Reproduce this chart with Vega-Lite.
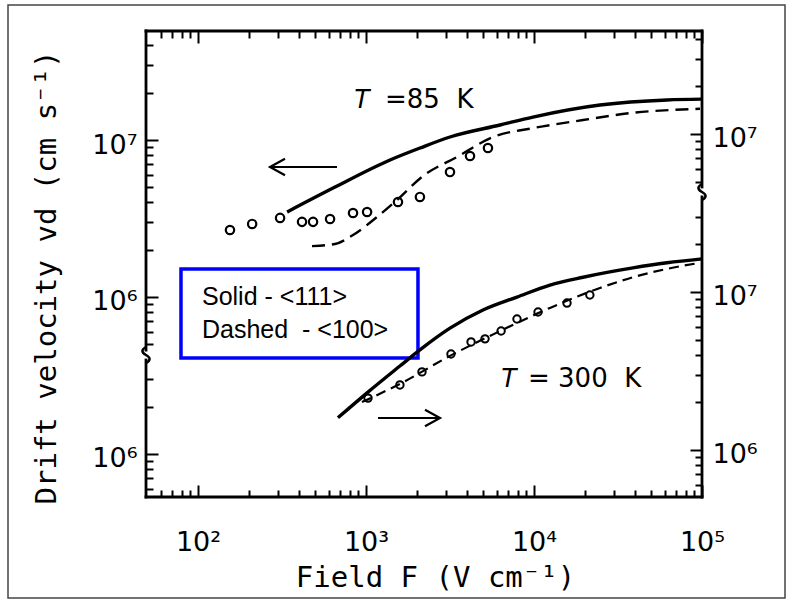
{
  "$schema": "https://vega.github.io/schema/vega-lite/v6.json",
  "width": 777,
  "height": 593,
  "autosize": "none",
  "padding": {"left": 8, "top": 5, "right": 7, "bottom": 7},
  "background": "white",
  "config": {"view": {"stroke": "#444444", "strokeWidth": 1.5}},
  "datasets": {
    "frame": [
      {"F": 49.03, "F2": 100000, "v": 53230, "v2": 53230},
      {"F": 49.03, "F2": 100000, "v": 49460000, "v2": 49460000},
      {"F": 49.03, "F2": 49.03, "v": 53230, "v2": 396900},
      {"F": 49.03, "F2": 49.03, "v": 459700, "v2": 49460000},
      {"F": 100000, "F2": 100000, "v": 53230, "v2": 4335000},
      {"F": 100000, "F2": 100000, "v": 5018000, "v2": 49460000}
    ],
    "breaks": [
      {"F": 49.03, "v": 427100},
      {"F": 100000, "v": 4665000}
    ],
    "box": [
      {"F": 79.2, "F2": 2039, "v": 1507800, "v2": 408800}
    ],
    "legendText": [
      {"F": 105.6, "v": 889000, "label": "Solid - <111>"},
      {"F": 105.6, "v": 548100, "label": "Dashed\u00a0 - <100>"}
    ],
    "tLabels": [
      {"F": 836.6, "v": 15995000, "label": "T"},
      {"F": 6276, "v": 267160, "label": "T"}
    ],
    "tempLabels": [
      {"F": 1297.6, "v": 15995000, "label": "=85\u00a0 K"},
      {"F": 9211, "v": 267160, "label": "=\u00a0300\u00a0 K"}
    ],
    "arrows": [
      {"F": 268.3, "F2": 672, "v": 6730000},
      {"F": 1179, "F2": 2757, "v": 169550}
    ],
    "arrowHeads": [
      {"F": 268.3, "v": 6730000, "dir": "left"},
      {"F": 2757, "v": 169550, "dir": "right"}
    ],
    "s85": [
      {"F": 339, "v": 3480000},
      {"F": 637, "v": 4940000},
      {"F": 1390, "v": 7460000},
      {"F": 2096, "v": 8890000},
      {"F": 3162, "v": 10450000},
      {"F": 6280, "v": 12460000},
      {"F": 9860, "v": 14000000},
      {"F": 24700, "v": 16700000},
      {"F": 61900, "v": 18000000},
      {"F": 100000, "v": 18200000}
    ],
    "d85": [
      {"F": 477, "v": 2110000},
      {"F": 654, "v": 2176000},
      {"F": 837, "v": 2483000},
      {"F": 1161, "v": 3230000},
      {"F": 1530, "v": 4150000},
      {"F": 2185, "v": 5900000},
      {"F": 3480, "v": 7800000},
      {"F": 5700, "v": 10450000},
      {"F": 9860, "v": 11900000},
      {"F": 19600, "v": 13400000},
      {"F": 38800, "v": 14900000},
      {"F": 97300, "v": 15800000}
    ],
    "p85": [
      {"F": 155, "v": 2670000},
      {"F": 210, "v": 2920000},
      {"F": 308, "v": 3190000},
      {"F": 416, "v": 3010000},
      {"F": 484, "v": 3010000},
      {"F": 611, "v": 3140000},
      {"F": 837, "v": 3430000},
      {"F": 1015, "v": 3480000},
      {"F": 1550, "v": 4030000},
      {"F": 2094, "v": 4340000},
      {"F": 3162, "v": 6250000},
      {"F": 4160, "v": 7910000},
      {"F": 5320, "v": 8890000}
    ],
    "s300": [
      {"F": 681, "v": 1600000},
      {"F": 1015, "v": 2300000},
      {"F": 1592, "v": 3400000},
      {"F": 2094, "v": 4300000},
      {"F": 3162, "v": 5900000},
      {"F": 4970, "v": 7690000},
      {"F": 7920, "v": 9290000},
      {"F": 12450, "v": 11070000},
      {"F": 19600, "v": 12400000},
      {"F": 38800, "v": 14200000},
      {"F": 61900, "v": 15300000},
      {"F": 100000, "v": 16200000}
    ],
    "d300": [
      {"F": 946, "v": 2010000},
      {"F": 1592, "v": 2620000},
      {"F": 3162, "v": 3940000},
      {"F": 6280, "v": 5660000},
      {"F": 12450, "v": 7930000},
      {"F": 24700, "v": 10600000},
      {"F": 38800, "v": 12400000},
      {"F": 61900, "v": 14000000},
      {"F": 97300, "v": 15300000}
    ],
    "p300": [
      {"F": 1028, "v": 2130000},
      {"F": 1592, "v": 2580000},
      {"F": 2154, "v": 3120000},
      {"F": 3205, "v": 4050000},
      {"F": 4220, "v": 4830000},
      {"F": 5110, "v": 5050000},
      {"F": 6370, "v": 5660000},
      {"F": 7920, "v": 6750000},
      {"F": 10570, "v": 7470000},
      {"F": 15720, "v": 8510000},
      {"F": 21500, "v": 9570000}
    ]
  },
  "layer": [
    {
      "encoding": {
        "x": {
          "field": "F",
          "type": "quantitative",
          "scale": {"type": "log", "domain": [7.396, 311960], "nice": false},
          "axis": {
            "orient": "bottom",
            "offset": -101,
            "domain": false,
            "grid": false,
            "values": [60, 70, 80, 90, 100, 200, 300, 400, 500, 600, 700, 800, 900, 1000, 2000, 3000, 4000, 5000, 6000, 7000, 8000, 9000, 10000, 20000, 30000, 40000, 50000, 60000, 70000, 80000, 90000, 100000],
            "tickSize": {"condition": {"test": "datum.value==100||datum.value==1000||datum.value==10000||datum.value==100000", "value": -12}, "value": -7},
            "tickColor": "black",
            "tickWidth": 2,
            "labelExpr": "datum.value==100?'10²':datum.value==1000?'10³':datum.value==10000?'10⁴':datum.value==100000?'10⁵':''",
            "labelPadding": 44,
            "labelFont": "DejaVu Sans",
            "labelFontSize": 27,
            "labelColor": "black",
            "labelBaseline": "top",
            "labelFlush": false,
            "labelOverlap": false,
            "title": "Field F (V cm⁻¹)",
            "titleFont": "DejaVu Sans Mono",
            "titleFontSize": 29,
            "titleFontWeight": "normal",
            "titleColor": "black",
            "titleX": 427,
            "titleY": 89,
            "titleAlign": "center",
            "titleBaseline": "alphabetic",
            "titleAngle": 0
          }
        },
        "y": {
          "field": "v",
          "type": "quantitative",
          "scale": {"type": "log", "domain": [12099, 72430000], "nice": false},
          "axis": {
            "orient": "left",
            "offset": -138,
            "domain": false,
            "grid": false,
            "values": [60000, 70000, 80000, 90000, 100000, 200000, 300000, 500000, 600000, 700000, 800000, 900000, 1000000, 2000000, 3000000, 4000000, 5000000, 6000000, 7000000, 8000000, 9000000, 10000000, 20000000, 30000000, 40000000],
            "tickSize": {"condition": {"test": "datum.value==100000||datum.value==1000000||datum.value==10000000", "value": -12}, "value": -7},
            "tickColor": "black",
            "tickWidth": 2,
            "labelExpr": "datum.value==100000?'10⁶':datum.value==1000000?'10⁶':datum.value==10000000?'10⁷':''",
            "labelPadding": 21,
            "labelFont": "DejaVu Sans",
            "labelFontSize": 27,
            "labelColor": "black",
            "labelBaseline": "middle",
            "labelOffset": 5,
            "labelFlush": false,
            "labelOverlap": false,
            "title": "Drift velocity vd (cm s⁻¹)",
            "titleFont": "DejaVu Sans Mono",
            "titleFontSize": 29,
            "titleFontWeight": "normal",
            "titleColor": "black",
            "titleX": -91,
            "titleY": 272,
            "titleAngle": -90,
            "titleAlign": "center",
            "titleBaseline": "alphabetic"
          }
        }
      },
      "layer": [
        {
          "data": {"name": "frame"},
          "mark": {"type": "rule", "color": "black", "strokeWidth": 2.8, "strokeCap": "square"},
          "encoding": {"x2": {"field": "F2"}, "y2": {"field": "v2"}}
        },
        {
          "data": {"name": "breaks"},
          "mark": {"type": "point", "shape": "M0,-1Q-0.9,-0.5 0,0Q0.9,0.5 0,1", "size": 256, "filled": false, "stroke": "black", "strokeWidth": 2.5, "opacity": 1}
        },
        {
          "data": {"name": "box"},
          "mark": {"type": "rect", "fill": "white", "stroke": "#0000ff", "strokeWidth": 3.5},
          "encoding": {"x2": {"field": "F2"}, "y2": {"field": "v2"}}
        },
        {
          "data": {"name": "legendText"},
          "mark": {"type": "text", "align": "left", "baseline": "alphabetic", "font": "Liberation Sans", "fontSize": 25, "color": "black"},
          "encoding": {"text": {"field": "label"}}
        },
        {
          "data": {"name": "tLabels"},
          "mark": {"type": "text", "align": "left", "baseline": "alphabetic", "font": "Liberation Sans", "fontStyle": "italic", "fontSize": 27, "color": "black"},
          "encoding": {"text": {"field": "label"}}
        },
        {
          "data": {"name": "tempLabels"},
          "mark": {"type": "text", "align": "left", "baseline": "alphabetic", "font": "DejaVu Sans", "fontSize": 26, "color": "black"},
          "encoding": {"text": {"field": "label"}}
        },
        {
          "data": {"name": "arrows"},
          "mark": {"type": "rule", "color": "black", "strokeWidth": 2.2},
          "encoding": {"x2": {"field": "F2"}}
        },
        {
          "data": {"name": "arrowHeads"},
          "mark": {"type": "point", "size": 900, "filled": false, "stroke": "black", "strokeWidth": 2.2, "opacity": 1},
          "encoding": {
            "shape": {"field": "dir", "type": "nominal", "scale": {"domain": ["left", "right"], "range": ["M1,-0.55L0,0L1,0.55", "M-1,-0.55L0,0L-1,0.55"]}, "legend": null}
          }
        },
        {
          "data": {"name": "s85"},
          "mark": {"type": "line", "color": "black", "strokeWidth": 3.4, "interpolate": "monotone"}
        },
        {
          "data": {"name": "d85"},
          "mark": {"type": "line", "color": "black", "strokeWidth": 2.4, "strokeDash": [13, 7], "interpolate": "monotone"}
        },
        {
          "data": {"name": "p85"},
          "mark": {"type": "point", "shape": "circle", "size": 70, "filled": false, "stroke": "black", "strokeWidth": 2.2, "opacity": 1}
        }
      ]
    },
    {
      "encoding": {
        "x": {
          "field": "F",
          "type": "quantitative",
          "scale": {"type": "log", "domain": [7.396, 311960], "nice": false},
          "axis": {
            "orient": "top",
            "offset": -26,
            "domain": false,
            "grid": false,
            "labels": false,
            "values": [60, 70, 80, 90, 100, 200, 300, 400, 500, 600, 700, 800, 900, 1000, 2000, 3000, 4000, 5000, 6000, 7000, 8000, 9000, 10000, 20000, 30000, 40000, 50000, 60000, 70000, 80000, 90000, 100000],
            "tickSize": {"condition": {"test": "datum.value==100||datum.value==1000||datum.value==10000||datum.value==100000", "value": -12}, "value": -7},
            "tickColor": "black",
            "tickWidth": 2,
            "title": null
          }
        },
        "y": {
          "field": "v",
          "type": "quantitative",
          "scale": {"type": "log", "domain": [115670, 655200000], "nice": false},
          "axis": {
            "orient": "right",
            "offset": -83,
            "domain": false,
            "grid": false,
            "values": [600000, 700000, 800000, 900000, 1000000, 2000000, 3000000, 4000000, 5000000, 6000000, 7000000, 8000000, 9000000, 10000000, 20000000, 30000000, 50000000, 60000000, 70000000, 80000000, 90000000, 100000000, 200000000, 300000000, 400000000],
            "tickSize": {"condition": {"test": "datum.value==1000000||datum.value==10000000||datum.value==100000000", "value": -12}, "value": -7},
            "tickColor": "black",
            "tickWidth": 2,
            "labelExpr": "datum.value==1000000?'10⁶':datum.value==10000000?'10⁷':datum.value==100000000?'10⁷':''",
            "labelPadding": 22,
            "labelFont": "DejaVu Sans",
            "labelFontSize": 27,
            "labelColor": "black",
            "labelBaseline": "middle",
            "labelOffset": 5,
            "labelFlush": false,
            "labelOverlap": false,
            "title": null
          }
        }
      },
      "layer": [
        {
          "data": {"name": "s300"},
          "mark": {"type": "line", "color": "black", "strokeWidth": 3.4, "interpolate": "monotone"}
        },
        {
          "data": {"name": "d300"},
          "mark": {"type": "line", "color": "black", "strokeWidth": 2.2, "strokeDash": [10, 6], "interpolate": "monotone"}
        },
        {
          "data": {"name": "p300"},
          "mark": {"type": "point", "shape": "circle", "size": 55, "filled": false, "stroke": "black", "strokeWidth": 2, "opacity": 1}
        }
      ]
    }
  ],
  "resolve": {
    "scale": {"y": "independent"},
    "axis": {"x": "independent", "y": "independent"}
  }
}
